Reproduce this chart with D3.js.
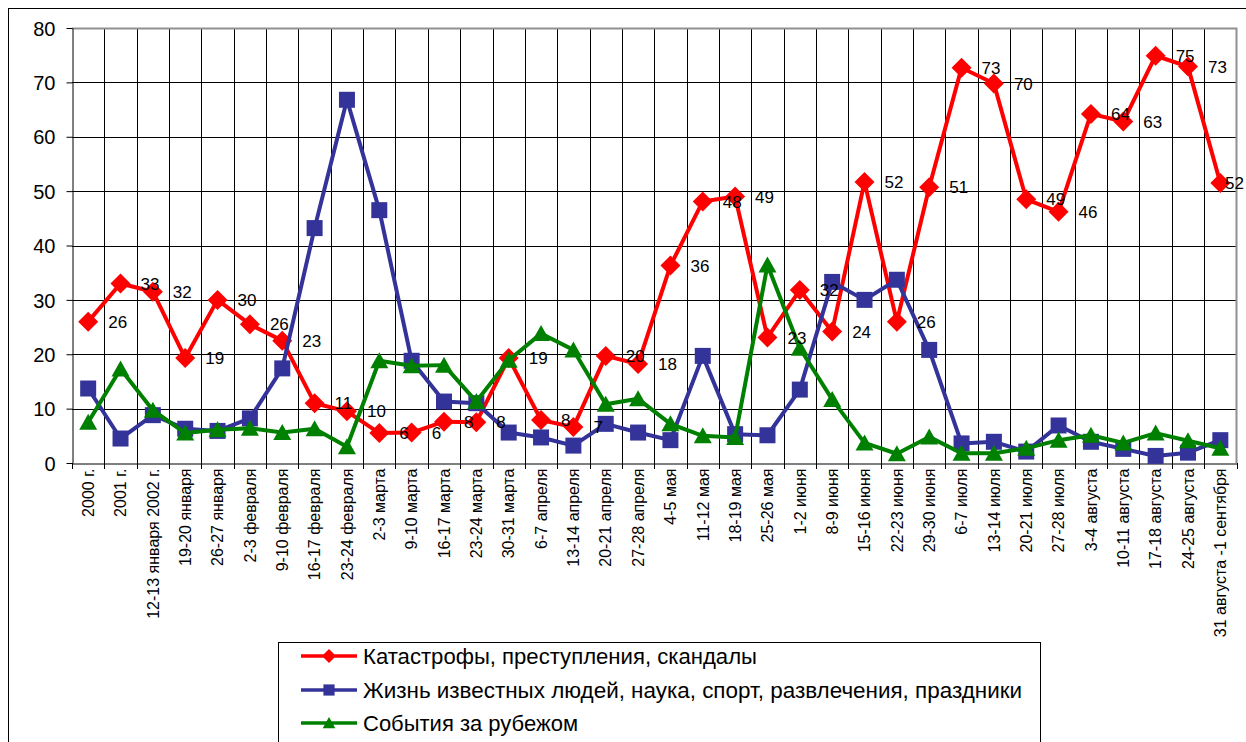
<!DOCTYPE html>
<html>
<head>
<meta charset="utf-8">
<script src="https://cdn.jsdelivr.net/npm/d3@7/dist/d3.min.js"></script>
<style>
  html, body { margin: 0; padding: 0; background: #fff; }
  svg { display: block; }
  text { font-family: Arial, "Liberation Sans", sans-serif; fill: #000; }
</style>
</head>
<body>
<svg id="chart" width="1246" height="742"></svg>
<script>
// Weekly categories
const categories = [
  "2000 г.", "2001 г.", "12-13 января 2002 г.", "19-20 января", "26-27 января",
  "2-3 февраля", "9-10 февраля", "16-17 февраля", "23-24 февраля", "2-3 марта",
  "9-10 марта", "16-17 марта", "23-24 марта", "30-31 марта", "6-7 апреля",
  "13-14 апреля", "20-21 апреля", "27-28 апреля", "4-5 мая", "11-12 мая",
  "18-19 мая", "25-26 мая", "1-2 июня", "8-9 июня", "15-16 июня",
  "22-23 июня", "29-30 июня", "6-7 июля", "13-14 июля", "20-21 июля",
  "27-28 июля", "3-4 августа", "10-11 августа", "17-18 августа", "24-25 августа",
  "31 августа -1 сентября"
];

// Series values
const disasters = [
  26.0, 33.0, 31.5, 19.3, 30.0, 25.5, 22.5, 11.0, 9.5, 5.5,
  5.6, 7.6, 7.5, 19.3, 7.9, 6.6, 19.7, 18.2, 36.3, 48.1,
  49.0, 23.1, 31.8, 24.2, 51.7, 26.0, 50.7, 72.7, 69.8, 48.5,
  46.2, 64.2, 62.8, 74.9, 72.9, 51.5
];
const celebrities = [
  13.7, 4.5, 8.8, 6.3, 5.9, 8.2, 17.4, 43.2, 66.8, 46.5,
  18.8, 11.3, 11.0, 5.6, 4.7, 3.2, 7.2, 5.6, 4.2, 19.7,
  5.3, 5.1, 13.5, 33.3, 30.0, 33.7, 20.8, 3.6, 3.9, 2.1,
  6.9, 3.9, 2.6, 1.3, 1.9, 4.2
];
const abroad = [
  7.5, 17.3, 9.7, 5.5, 6.1, 6.4, 5.6, 6.3, 3.0, 18.8,
  17.9, 18.0, 11.3, 18.9, 23.8, 20.8, 10.8, 11.8, 7.2, 5.0,
  4.7, 36.4, 21.1, 11.7, 3.7, 1.7, 4.8, 1.8, 1.8, 2.7,
  4.2, 5.1, 3.7, 5.5, 4.1, 2.7
];

const seriesNames = [
  "Катастрофы, преступления, скандалы",
  "Жизнь известных людей, наука, спорт, развлечения, праздники",
  "События за рубежом"
];
const yTicks = [0, 10, 20, 30, 40, 50, 60, 70, 80];

const series = [
  { name: seriesNames[0], values: disasters,   color: "#FF0000", marker: "diamond",  labels: true },
  { name: seriesNames[1], values: celebrities, color: "#333399", marker: "square",   labels: false },
  { name: seriesNames[2], values: abroad,      color: "#008000", marker: "triangle", labels: false }
];

const W = 1246;
const svg = d3.select("#chart");

// Chart area frame
svg.append("rect")
  .attr("x", 8.5).attr("y", 8.5)
  .attr("width", 1400).attr("height", 900)
  .attr("fill", "#fff").attr("stroke", "#000").attr("stroke-width", 1);

const plot = { left: 72, right: 1236.5, top: 28, bottom: 463 };

const x = d3.scaleBand().domain(categories).range([plot.left, plot.right]).padding(0);
const y = d3.scaleLinear().domain([0, 80]).range([plot.bottom, plot.top]);
const cx = c => x(c) + x.bandwidth() / 2;

// Horizontal gridlines
svg.append("g")
  .selectAll("line")
  .data(yTicks.filter(t => t > 0 && t < 80))
  .join("line")
  .attr("x1", plot.left).attr("x2", plot.right)
  .attr("y1", d => Math.round(y(d)) + 0.5).attr("y2", d => Math.round(y(d)) + 0.5)
  .attr("stroke", "#000").attr("stroke-width", 1);

// Vertical gridlines between categories
svg.append("g")
  .selectAll("line")
  .data(categories.slice(1))
  .join("line")
  .attr("x1", d => Math.round(x(d)) + 0.5).attr("x2", d => Math.round(x(d)) + 0.5)
  .attr("y1", plot.top).attr("y2", plot.bottom)
  .attr("stroke", "#000").attr("stroke-width", 1);

// Plot area border (top and right)
svg.append("path")
  .attr("d", `M${plot.left},${plot.top + 0.5} H${plot.right} V${plot.bottom}`)
  .attr("fill", "none").attr("stroke", "#909090").attr("stroke-width", 2);

// Y axis
const yAxis = svg.append("g")
  .attr("transform", `translate(${plot.left + 0.5},0)`)
  .call(d3.axisLeft(y).tickValues(yTicks).tickSize(6).tickPadding(11).tickSizeOuter(0));
yAxis.selectAll("text").style("font-size", "20px").attr("dy", "0.36em");
yAxis.selectAll("line, path").attr("stroke", "#000");

// X axis with rotated labels
const xAxis = svg.append("g")
  .attr("transform", `translate(0,${plot.bottom + 0.5})`)
  .call(d3.axisBottom(x).tickSize(0).tickSizeOuter(0));
xAxis.select(".domain").attr("stroke", "#000");
xAxis.selectAll("text")
  .style("font-size", "16px")
  .attr("transform", "rotate(-90)")
  .attr("text-anchor", "end")
  .attr("x", -5).attr("y", 0).attr("dy", "0.36em");

// Tick marks at category boundaries
svg.append("g")
  .selectAll("line")
  .data(categories.map(c => x(c)).concat([plot.right]))
  .join("line")
  .attr("x1", d => Math.round(d) + 0.5).attr("x2", d => Math.round(d) + 0.5)
  .attr("y1", plot.bottom).attr("y2", plot.bottom + 6)
  .attr("stroke", "#000");

// Marker shapes
function markerPath(type, s) {
  if (type === "diamond") return `M0,${-s} L${s},0 L0,${s} L${-s},0 Z`;
  if (type === "square") { const h = s * 0.8; return `M${-h},${-h} H${h} V${h} H${-h} Z`; }
  return `M0,${-s * 0.85} L${s * 0.9},${s * 0.75} L${-s * 0.9},${s * 0.75} Z`;
}

const line = d3.line().x((d, i) => cx(categories[i])).y(d => y(d));

series.forEach(s => {
  const g = svg.append("g");
  g.append("path")
    .attr("d", line(s.values))
    .attr("fill", "none")
    .attr("stroke", s.color)
    .attr("stroke-width", 4)
    .attr("stroke-linejoin", "round");
  g.selectAll("path.mk")
    .data(s.values)
    .join("path")
    .attr("class", "mk")
    .attr("d", markerPath(s.marker, 10))
    .attr("transform", (d, i) => `translate(${cx(categories[i])},${y(d)})`)
    .attr("fill", s.color);
});

// Value labels for the first series (kept inside the frame at the right edge)
const fmt = d3.format(".0f");
series.filter(s => s.labels).forEach(s => {
  svg.append("g")
    .selectAll("text")
    .data(s.values)
    .join("text")
    .attr("x", (d, i) => Math.min(cx(categories[i]) + 20, W - 21))
    .attr("y", d => y(d))
    .attr("dy", "0.36em")
    .style("font-size", "17px")
    .text(d => fmt(d));
});

// Legend
const legend = svg.append("g");
legend.append("rect")
  .attr("x", 278.5).attr("y", 642.5)
  .attr("width", 762).attr("height", 200)
  .attr("fill", "#fff").attr("stroke", "#000");

const legendRows = [656, 690, 723];
const legendWidths = [394, 659, 215];
series.forEach((s, i) => {
  const row = legend.append("g").attr("transform", `translate(0,${legendRows[i]})`);
  row.append("line")
    .attr("x1", 301).attr("x2", 357)
    .attr("stroke", s.color).attr("stroke-width", 3.5);
  row.append("path")
    .attr("d", markerPath(s.marker, 7))
    .attr("transform", "translate(329,0)")
    .attr("fill", s.color);
  row.append("text")
    .attr("x", 363).attr("dy", "0.36em")
    .style("font-size", "22px")
    .attr("textLength", legendWidths[i])
    .attr("lengthAdjust", "spacingAndGlyphs")
    .text(s.name);
});
</script>
</body>
</html>
